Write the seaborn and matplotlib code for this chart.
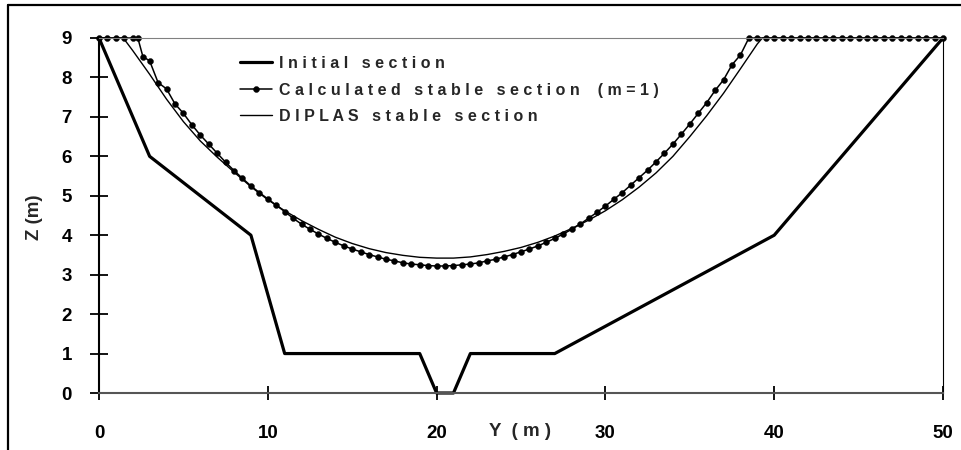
import numpy as np
import seaborn as sns
import matplotlib.pyplot as plt
from matplotlib.lines import Line2D

# initial section (Y, Z in m)
y_initial = [0, 3, 9, 11, 19, 20, 21, 22, 27, 40, 50]
z_initial = [9, 6, 4, 1, 1, 0, 0, 1, 1, 4, 9]

# calculated stable section (m=1)
y_calc = [0.0, 0.5, 1.0, 1.5, 2.0, 2.3, 2.6, 3.0, 3.5, 4.0, 4.5, 5.0, 5.5, 6.0,
          6.5, 7.0, 7.5, 8.0, 8.5, 9.0, 9.5, 10.0, 10.5, 11.0, 11.5, 12.0, 12.5,
          13.0, 13.5, 14.0, 14.5, 15.0, 15.5, 16.0, 16.5, 17.0, 17.5, 18.0, 18.5,
          19.0, 19.5, 20.0, 20.5, 21.0, 21.5, 22.0, 22.5, 23.0, 23.5, 24.0, 24.5,
          25.0, 25.5, 26.0, 26.5, 27.0, 27.5, 28.0, 28.5, 29.0, 29.5, 30.0, 30.5,
          31.0, 31.5, 32.0, 32.5, 33.0, 33.5, 34.0, 34.5, 35.0, 35.5, 36.0, 36.5,
          37.0, 37.5, 38.0, 38.5, 39.0, 39.5, 40.0, 40.5, 41.0, 41.5, 42.0, 42.5,
          43.0, 43.5, 44.0, 44.5, 45.0, 45.5, 46.0, 46.5, 47.0, 47.5, 48.0, 48.5,
          49.0, 49.5, 50.0]
z_calc = [9, 9, 9, 9, 9, 9, 8.53, 8.42, 7.87, 7.71, 7.33, 7.09, 6.80, 6.54,
          6.31, 6.08, 5.85, 5.64, 5.44, 5.25, 5.08, 4.92, 4.76, 4.60, 4.43, 4.28, 4.15,
          4.03, 3.92, 3.82, 3.73, 3.65, 3.58, 3.51, 3.45, 3.39, 3.35, 3.30, 3.27,
          3.25, 3.23, 3.22, 3.22, 3.23, 3.25, 3.27, 3.30, 3.35, 3.39, 3.45, 3.51,
          3.58, 3.65, 3.73, 3.82, 3.92, 4.03, 4.15, 4.28, 4.43, 4.58, 4.74, 4.91,
          5.08, 5.27, 5.46, 5.65, 5.86, 6.08, 6.31, 6.56, 6.82, 7.09, 7.36, 7.67,
          7.94, 8.32, 8.57, 9, 9, 9, 9, 9, 9, 9, 9, 9,
          9, 9, 9, 9, 9, 9, 9, 9, 9, 9, 9, 9,
          9, 9, 9]

# DIPLAS stable section
y_diplas = [0, 1.44, 2, 3, 4, 5, 6, 7, 8, 9, 10, 11, 12, 13, 14, 15, 16, 17, 18,
            19, 20, 21, 22, 23, 24, 25, 26, 27, 28, 29, 30, 31, 32, 33, 34, 35,
            36, 37, 38, 39, 39.3, 50]
z_diplas = [9, 9, 8.68, 8.08, 7.45, 6.88, 6.39, 5.98, 5.6, 5.23, 4.9, 4.62, 4.37,
            4.15, 3.95, 3.79, 3.66, 3.56, 3.49, 3.44, 3.42, 3.42, 3.45, 3.51, 3.59,
            3.69, 3.82, 3.98, 4.17, 4.38, 4.62, 4.9, 5.22, 5.58, 6.0, 6.5, 7.03,
            7.6, 8.22, 8.85, 9, 9]

x_ticks = [0, 10, 20, 30, 40, 50]
z_ticks = [0, 1, 2, 3, 4, 5, 6, 7, 8, 9]


def spaced(s):
    return ' '.join(s)


sns.set_style('ticks')
plt.rcParams['font.family'] = ['Liberation Sans', 'DejaVu Sans']
plt.rcParams['font.weight'] = 'bold'
plt.rcParams.update({
    'xtick.bottom': True, 'ytick.left': True,
    'xtick.direction': 'inout', 'ytick.direction': 'inout',
    'xtick.major.size': 10, 'ytick.major.size': 13,
    'xtick.major.width': 1.3, 'ytick.major.width': 1.3,
    'xtick.color': 'black', 'ytick.color': 'black',
    'xtick.labelsize': 13.5, 'ytick.labelsize': 13.5,
    'xtick.major.pad': 18, 'ytick.major.pad': 13,
})

fig = plt.figure(figsize=(9.61, 4.5), dpi=100)
ax = fig.add_axes([99 / 961, 1 - 393 / 450, 844 / 961, 355 / 450])

sns.lineplot(x=y_initial, y=z_initial, sort=False, estimator=None, color='black',
             lw=2.3, label=spaced('Initial section'), ax=ax, clip_on=False)
sns.lineplot(x=y_calc, y=z_calc, sort=False, estimator=None, color='black',
             lw=1.1, marker='o', markersize=4.3, mec='black', mew=0.3,
             label=spaced('Calculated stable section') + '    ' + spaced('(m=1)'),
             ax=ax, clip_on=False)
sns.lineplot(x=y_diplas, y=z_diplas, sort=False, estimator=None, color='black',
             lw=1.0, label=spaced('DIPLAS stable section'), ax=ax, clip_on=False)

ax.set_xlim(0, 50)
ax.set_ylim(0, 9)
ax.set_xticks(x_ticks)
ax.set_yticks(z_ticks)

ax.spines['left'].set_color('black')
ax.spines['left'].set_linewidth(1.5)
ax.spines['bottom'].set_color('#555555')
ax.spines['bottom'].set_linewidth(1.5)
ax.spines['top'].set_color('#808080')
ax.spines['top'].set_linewidth(0.8)
ax.spines['right'].set_color('black')
ax.spines['right'].set_linewidth(0.8)

ax.set_xlabel(spaced('Y (m)').replace('   ', '  '), fontsize=13.5, fontweight='bold')
ax.xaxis.set_label_coords((520 - 99) / 844, (393 - 423) / 355)
ax.set_ylabel('Z (m)', fontsize=13.5, fontweight='bold')
ax.yaxis.set_label_coords((43 - 99) / 844, (393 - 217) / 355)

ax.legend(loc='upper left', bbox_to_anchor=(240 / 961, 1 - 56 / 450),
          bbox_transform=fig.transFigure, frameon=False,
          handlelength=2.0, handletextpad=0.45, labelspacing=0.72,
          borderpad=0, borderaxespad=0, prop={'weight': 'bold', 'size': 11.5})

# outer chart border (cropped on right and bottom)
fig.add_artist(Line2D([8 / 961, 8 / 961], [0, 1 - 5 / 450], color='black', lw=1.6,
                      transform=fig.transFigure))
fig.add_artist(Line2D([8 / 961, 1], [1 - 5 / 450, 1 - 5 / 450], color='black', lw=1.6,
                      transform=fig.transFigure))

plt.savefig('out.png', dpi=100)
